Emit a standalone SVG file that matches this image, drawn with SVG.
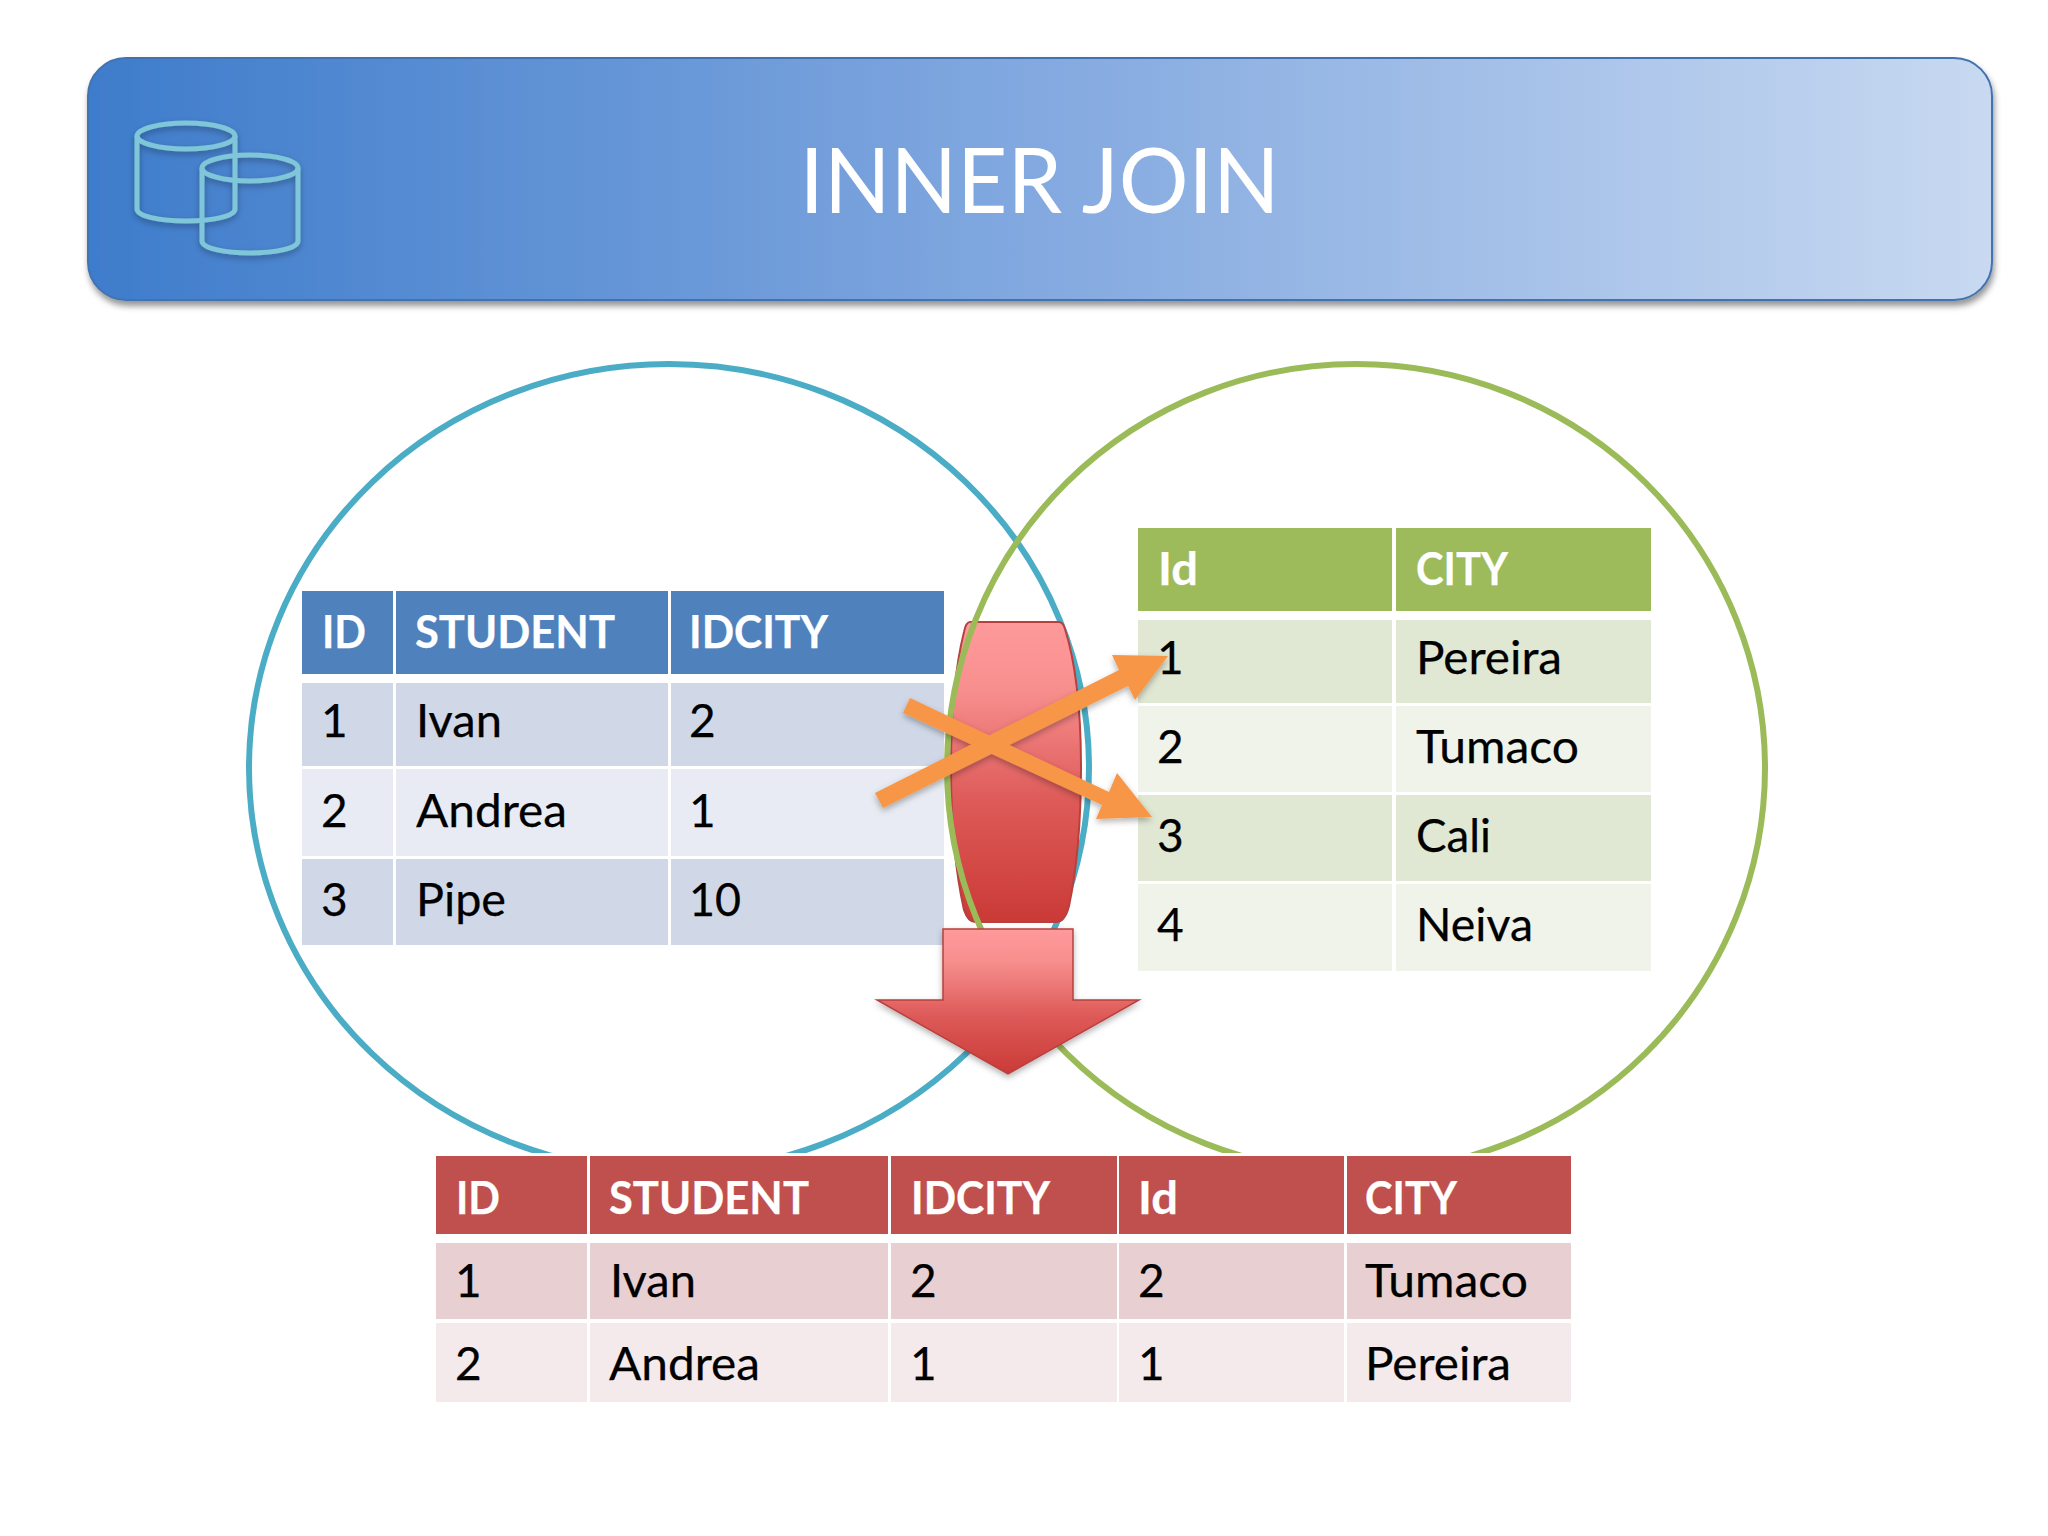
<svg xmlns="http://www.w3.org/2000/svg" width="2048" height="1536" viewBox="0 0 2048 1536">
<style>
text{font-family:"Lato","Carlito","Open Sans",sans-serif;font-size:46px;fill:#000;stroke:#000;stroke-width:.25px;transform:translate(-1px,1px)}
text.h{font-weight:700;fill:#fff;stroke:#fff}
text.title{font-size:92px;fill:#fff;stroke:none}
.cyl{fill:none;stroke:#7fc6d9;stroke-width:5}
.b1{fill:#4f81bd}.b2{fill:#d0d8e8}.b3{fill:#e8ebf3}
.g1{fill:#9dbb5b}.g2{fill:#e0e7d2}.g3{fill:#f0f3ea}
.r1{fill:#c0504d}.r2{fill:#e8d0d2}.r3{fill:#f4e9eb}
.orange{fill:#f79646}
</style>
<defs>
<linearGradient id="ban" x1="0" x2="1" y1="0" y2="0"><stop offset="0" stop-color="#3e7ccb"/><stop offset=".5" stop-color="#83a9e0"/><stop offset="1" stop-color="#c8d9f1"/></linearGradient>
<linearGradient id="red" x1="0" x2="0" y1="0" y2="1"><stop offset="0" stop-color="#ff9a9a"/><stop offset=".22" stop-color="#f88f8f"/><stop offset=".6" stop-color="#dd5a58"/><stop offset="1" stop-color="#ca3a36"/></linearGradient>
<filter id="sh" x="-10%" y="-10%" width="120%" height="125%"><feDropShadow dx="0" dy="3" stdDeviation="3" flood-color="#000" flood-opacity=".3"/></filter>
<filter id="shb" x="-5%" y="-10%" width="110%" height="125%"><feDropShadow dx="1.500" dy="5" stdDeviation="3" flood-color="#000" flood-opacity=".42"/></filter>
<clipPath id="cut"><rect x="0" y="0" width="2048" height="1153"/></clipPath>
</defs>
<rect width="2048" height="1536" fill="#fff"/>
<g id="banner">
<rect x="88" y="58" width="1904" height="242" rx="38" fill="url(#ban)" stroke="#4273b0" stroke-width="2" filter="url(#shb)"/>
<g filter="url(#sh)">
<path class="cyl" d="M137 136V209C137 216 159 221 186 221S235 216 235 209V136"/>
<ellipse class="cyl" cx="186" cy="136" rx="49" ry="13"/>
<path class="cyl" d="M202 168V241C202 248 224 253 250 253S298 248 298 241V168"/>
<ellipse class="cyl" cx="250" cy="168" rx="48" ry="13"/>
</g>
<text class="title" x="800.500" y="212" textLength="480" lengthAdjust="spacingAndGlyphs">INNER JOIN</text>
</g>
<g id="set-left" clip-path="url(#cut)" fill="none" stroke-width="6">
<ellipse cx="669" cy="768" rx="420" ry="404" stroke="#4bacc6"/>
</g>
<g id="table-students">
<rect class="b1" x="302" y="591" width="91" height="83"/><rect class="b1" x="396" y="591" width="272" height="83"/><rect class="b1" x="671" y="591" width="273" height="83"/>
<rect class="b2" x="302" y="683" width="91" height="83"/><rect class="b2" x="396" y="683" width="272" height="83"/><rect class="b2" x="671" y="683" width="273" height="83"/>
<rect class="b3" x="302" y="769" width="91" height="87"/><rect class="b3" x="396" y="769" width="272" height="87"/><rect class="b3" x="671" y="769" width="273" height="87"/>
<rect class="b2" x="302" y="859" width="91" height="86"/><rect class="b2" x="396" y="859" width="272" height="86"/><rect class="b2" x="671" y="859" width="273" height="86"/>
<text class="h" x="323" y="647" textLength="44" lengthAdjust="spacingAndGlyphs">ID</text><text class="h" x="416" y="647" textLength="200" lengthAdjust="spacingAndGlyphs">STUDENT</text><text class="h" x="690" y="647" textLength="139" lengthAdjust="spacingAndGlyphs">IDCITY</text>
<text x="322" y="736">1</text><text x="417" y="736" textLength="86" lengthAdjust="spacingAndGlyphs">Ivan</text><text x="690" y="736">2</text>
<text x="322" y="826">2</text><text x="417" y="826" textLength="151" lengthAdjust="spacingAndGlyphs">Andrea</text><text x="690" y="826">1</text>
<text x="322" y="915">3</text><text x="417" y="915" textLength="90" lengthAdjust="spacingAndGlyphs">Pipe</text><text x="690" y="915" textLength="52" lengthAdjust="spacingAndGlyphs">10</text>
</g>
<g id="table-cities">
<rect class="g1" x="1138" y="528" width="254" height="83"/><rect class="g1" x="1396" y="528" width="255" height="83"/>
<rect class="g2" x="1138" y="620" width="254" height="83"/><rect class="g2" x="1396" y="620" width="255" height="83"/>
<rect class="g3" x="1138" y="706" width="254" height="86"/><rect class="g3" x="1396" y="706" width="255" height="86"/>
<rect class="g2" x="1138" y="795" width="254" height="86"/><rect class="g2" x="1396" y="795" width="255" height="86"/>
<rect class="g3" x="1138" y="884" width="254" height="87"/><rect class="g3" x="1396" y="884" width="255" height="87"/>
<text class="h" x="1159" y="584" textLength="40" lengthAdjust="spacingAndGlyphs">Id</text><text class="h" x="1417" y="584" textLength="92" lengthAdjust="spacingAndGlyphs">CITY</text>
<text x="1417" y="673" textLength="146" lengthAdjust="spacingAndGlyphs">Pereira</text>
<text x="1158" y="762">2</text><text x="1417" y="762" textLength="163" lengthAdjust="spacingAndGlyphs">Tumaco</text>
<text x="1158" y="851">3</text><text x="1417" y="851" textLength="75" lengthAdjust="spacingAndGlyphs">Cali</text>
<text x="1158" y="940">4</text><text x="1417" y="940" textLength="117" lengthAdjust="spacingAndGlyphs">Neiva</text>
</g>
<g id="intersection">
<path d="M970 622H1059Q1063 622 1065 629C1076 664 1081 715 1081 768S1077 868 1069 906Q1065 922 1056 922H975Q968 922 964 910C955 870 951 820 951 768S955 668 964 632Q966 622 970 622Z" fill="url(#red)" stroke="#b8403e" stroke-width="2"/>
</g>
<g id="set-right" clip-path="url(#cut)" fill="none" stroke-width="6">
<ellipse cx="1356" cy="768" rx="409" ry="404" stroke="#9bbb59"/>
</g>
<g id="connectors" filter="url(#sh)">
<polygon class="orange" points="910,698 1109,792 1117,773 1152,817 1096,819 1102,805 903,713"/>
<polygon class="orange" points="875,793 1119,670 1112,655 1168,656 1135,700 1128,686 883,808"/>
</g>
<g id="city-1-label"><text x="1158" y="673">1</text></g>
<g id="arrow-down">
<polygon points="943,929 1073,929 1073,1000 1139,1000 1008,1074 877,1000 943,1000" fill="url(#red)" stroke="#b8403e" stroke-width="1.500" filter="url(#sh)"/>
</g>
<g id="table-result">
<rect class="r1" x="436" y="1156" width="151" height="78"/><rect class="r1" x="590" y="1156" width="298" height="78"/><rect class="r1" x="891" y="1156" width="226" height="78"/><rect class="r1" x="1119" y="1156" width="225" height="78"/><rect class="r1" x="1347" y="1156" width="224" height="78"/>
<rect class="r2" x="436" y="1243" width="151" height="76"/><rect class="r2" x="590" y="1243" width="298" height="76"/><rect class="r2" x="891" y="1243" width="226" height="76"/><rect class="r2" x="1119" y="1243" width="225" height="76"/><rect class="r2" x="1347" y="1243" width="224" height="76"/>
<rect class="r3" x="436" y="1323" width="151" height="79"/><rect class="r3" x="590" y="1323" width="298" height="79"/><rect class="r3" x="891" y="1323" width="226" height="79"/><rect class="r3" x="1119" y="1323" width="225" height="79"/><rect class="r3" x="1347" y="1323" width="224" height="79"/>
<text class="h" x="457" y="1213" textLength="44" lengthAdjust="spacingAndGlyphs">ID</text><text class="h" x="610" y="1213" textLength="200" lengthAdjust="spacingAndGlyphs">STUDENT</text><text class="h" x="912" y="1213" textLength="139" lengthAdjust="spacingAndGlyphs">IDCITY</text><text class="h" x="1139" y="1213" textLength="40" lengthAdjust="spacingAndGlyphs">Id</text><text class="h" x="1366" y="1213" textLength="92" lengthAdjust="spacingAndGlyphs">CITY</text>
<text x="456" y="1296">1</text><text x="611" y="1296" textLength="86" lengthAdjust="spacingAndGlyphs">Ivan</text><text x="911" y="1296">2</text><text x="1139" y="1296">2</text><text x="1366" y="1296" textLength="163" lengthAdjust="spacingAndGlyphs">Tumaco</text>
<text x="456" y="1379">2</text><text x="610" y="1379" textLength="151" lengthAdjust="spacingAndGlyphs">Andrea</text><text x="911" y="1379">1</text><text x="1139" y="1379">1</text><text x="1366" y="1379" textLength="146" lengthAdjust="spacingAndGlyphs">Pereira</text>
</g>
</svg>
